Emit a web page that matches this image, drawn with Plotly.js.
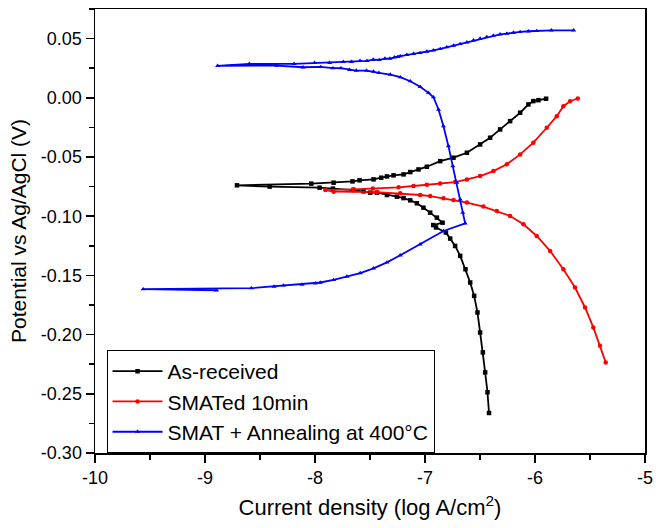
<!DOCTYPE html>
<html>
<head>
<meta charset="utf-8">
<script src="https://cdn.plot.ly/plotly-3.0.1.min.js"></script>
<style>html,body{margin:0;padding:0;background:#fff}#chart{width:656px;height:528px}</style>
</head>
<body>
<div id="chart"></div>
<script>
// Series names
const seriesNames = ['As-received', 'SMATed 10min', 'SMAT + Annealing at 400°C'];

// As-received: log current density (x) and potential (y)
const asReceivedX = [-6.418, -6.432, -6.453, -6.474, -6.499, -6.523, -6.553, -6.589, -6.632, -6.680, -6.726, -6.771, -6.810, -6.900, -6.925, -6.840, -6.892, -6.953, -7.014, -7.074, -7.134, -7.195, -7.255, -7.346, -7.437, -7.498, -7.559, -7.650, -7.837, -7.958, -8.412, -8.709, -8.034, -7.831, -7.659, -7.595, -7.468, -7.398, -7.346, -7.286, -7.195, -7.134, -7.059, -6.983, -6.862, -6.741, -6.619, -6.499, -6.408, -6.317, -6.226, -6.135, -6.060, -6.015, -5.969, -5.899];
const asReceivedY = [-0.2662, -0.2487, -0.2319, -0.2150, -0.1982, -0.1813, -0.1673, -0.1560, -0.1448, -0.1335, -0.1251, -0.1189, -0.1138, -0.1095, -0.1075, -0.1055, -0.1012, -0.0970, -0.0928, -0.0891, -0.0866, -0.0847, -0.0835, -0.0821, -0.0801, -0.0801, -0.0790, -0.0779, -0.0767, -0.0759, -0.0750, -0.0739, -0.0725, -0.0717, -0.0706, -0.0697, -0.0689, -0.0675, -0.0664, -0.0655, -0.0647, -0.0627, -0.0605, -0.0582, -0.0535, -0.0506, -0.0464, -0.0394, -0.0337, -0.0267, -0.0197, -0.0126, -0.0056, -0.0028, -0.0020, -0.0008];

// SMATed 10min
const smatedX = [-5.357, -5.409, -5.470, -5.545, -5.636, -5.742, -5.863, -5.984, -6.105, -6.226, -6.347, -6.469, -6.619, -6.741, -6.832, -6.953, -7.044, -7.225, -7.437, -7.831, -7.906, -7.650, -7.474, -7.240, -7.104, -6.983, -6.862, -6.726, -6.619, -6.499, -6.378, -6.256, -6.135, -6.015, -5.893, -5.802, -5.742, -5.681, -5.611];
const smatedY = [-0.2235, -0.2094, -0.1939, -0.1771, -0.1602, -0.1448, -0.1293, -0.1167, -0.1068, -0.0998, -0.0956, -0.0919, -0.0885, -0.0863, -0.0849, -0.0830, -0.0821, -0.0807, -0.0796, -0.0793, -0.0779, -0.0773, -0.0767, -0.0756, -0.0745, -0.0734, -0.0723, -0.0712, -0.0689, -0.0661, -0.0619, -0.0562, -0.0478, -0.0379, -0.0253, -0.0155, -0.0071, -0.0029, -0.0006];

// SMAT + Annealing at 400°C
const annealedX = [-8.894, -9.562, -8.579, -8.372, -8.285, -8.118, -7.997, -7.952, -7.831, -7.710, -7.589, -7.468, -7.346, -7.225, -7.044, -6.832, -6.635, -6.656, -6.680, -6.710, -6.747, -6.787, -6.832, -6.877, -6.923, -6.968, -7.044, -7.134, -7.225, -7.316, -7.419, -7.468, -7.531, -7.625, -7.686, -7.764, -7.837, -7.949, -8.109, -8.349, -8.885, -8.597, -8.191, -8.004, -7.867, -7.743, -7.668, -7.591, -7.528, -7.470, -7.416, -7.364, -7.319, -7.277, -7.246, -7.225, -7.164, -7.104, -7.044, -6.983, -6.923, -6.862, -6.801, -6.741, -6.680, -6.619, -6.559, -6.499, -6.438, -6.378, -6.317, -6.256, -6.196, -6.135, -6.060, -5.984, -5.851, -5.648];
const annealedY = [-0.1627, -0.1616, -0.1608, -0.1594, -0.1585, -0.1577, -0.1568, -0.1560, -0.1538, -0.1510, -0.1480, -0.1440, -0.1390, -0.1330, -0.1237, -0.1125, -0.1060, -0.0970, -0.0858, -0.0717, -0.0577, -0.0408, -0.0240, -0.0099, 0.0005, 0.0042, 0.0093, 0.0140, 0.0174, 0.0196, 0.0211, 0.0222, 0.0230, 0.0230, 0.0236, 0.0250, 0.0250, 0.0261, 0.0258, 0.0272, 0.0270, 0.0287, 0.0287, 0.0295, 0.0295, 0.0304, 0.0304, 0.0312, 0.0312, 0.0323, 0.0320, 0.0331, 0.0331, 0.0342, 0.0346, 0.0351, 0.0363, 0.0371, 0.0379, 0.0390, 0.0401, 0.0413, 0.0427, 0.0441, 0.0455, 0.0469, 0.0486, 0.0500, 0.0514, 0.0525, 0.0536, 0.0542, 0.0551, 0.0556, 0.0562, 0.0565, 0.0570, 0.0570];

// Tick labels
const xTickVals = [-10, -9, -8, -7, -6, -5];
const xTickText = ['-10', '-9', '-8', '-7', '-6', '-5'];
const yTickVals = [0.05, 0.00, -0.05, -0.10, -0.15, -0.20, -0.25, -0.30];
const yTickText = ['0.05', '0.00', '-0.05', '-0.10', '-0.15', '-0.20', '-0.25', '-0.30'];

const FONT = 'Arial, "Liberation Sans", sans-serif';

function mk(x, y, name, color, symbol, group) {
  return {
    type: 'scatter', mode: 'lines+markers', x: x, y: y, name: name,
    legendgroup: group,
    line: {color: color, width: 1.8},
    marker: {color: color, symbol: symbol, size: 4.5}
  };
}

const data = [
  mk(asReceivedX, asReceivedY, seriesNames[0], '#000000', 'square', 'a'),
  mk(smatedX, smatedY, seriesNames[1], '#ff0000', 'circle', 'b'),
  mk(annealedX, annealedY, seriesNames[2], '#0000ff', 'triangle-up', 'c')
];

const axisCommon = {
  showgrid: false, zeroline: false,
  showline: true, linecolor: '#000', linewidth: 1.5, mirror: true,
  ticks: 'outside', ticklen: 8, tickwidth: 1.5, tickcolor: '#000',
  tickfont: {family: FONT, size: 18, color: '#000'},
  tickmode: 'array'
};

const layout = {
  width: 656, height: 528,
  margin: {l: 94.5, r: 11, t: 9, b: 75},
  paper_bgcolor: '#fff', plot_bgcolor: '#fff',
  font: {family: FONT, color: '#000'},
  showlegend: true,
  xaxis: Object.assign({}, axisCommon, {
    range: [-10, -5], tickvals: xTickVals, ticktext: xTickText,
    minor: {tickmode: 'linear', tick0: -10, dtick: 0.5, ticks: 'outside', ticklen: 5, tickwidth: 1.5, tickcolor: '#000'},
    title: {text: 'Current density (log A/cm<sup>2</sup>)', font: {family: FONT, size: 22}, standoff: 12}
  }),
  yaxis: Object.assign({}, axisCommon, {
    range: [-0.30, 0.075], tickvals: yTickVals, ticktext: yTickText,
    minor: {tickmode: 'linear', tick0: -0.30, dtick: 0.025, ticks: 'outside', ticklen: 5, tickwidth: 1.5, tickcolor: '#000'},
    title: {text: 'Potential vs Ag/AgCl (V)', font: {family: FONT, size: 21}, standoff: 8}
  }),
  legend: {
    x: 0.021, y: 0.232, xanchor: 'left', yanchor: 'top',
    bordercolor: '#000', borderwidth: 1, bgcolor: '#fff',
    font: {family: FONT, size: 21, color: '#000'},
    itemwidth: 50, tracegroupgap: 0
  }
};

Plotly.newPlot('chart', data, layout, {displayModeBar: false, staticPlot: true});
</script>
</body>
</html>
